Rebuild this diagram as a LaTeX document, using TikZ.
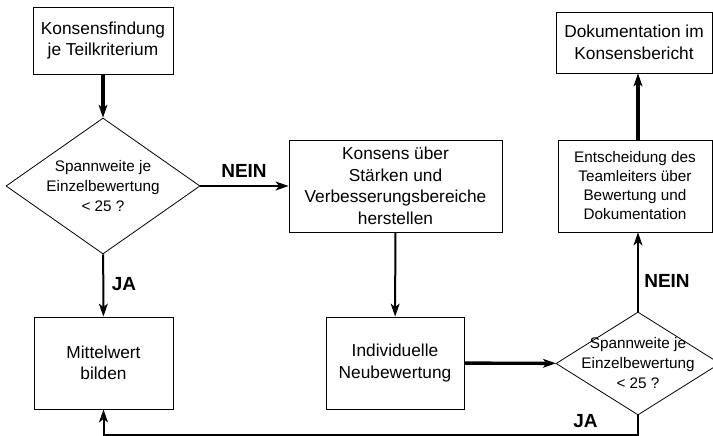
\documentclass[tikz,border=0pt]{standalone}
\usepackage{fontspec}
\setmainfont{Liberation Sans}
\usetikzlibrary{shapes.geometric,arrows.meta}
\tikzset{
  box/.style={draw, line width=0.9pt, align=center, inner sep=0pt,
    font=\fontsize{17.3}{21.5}\selectfont},
  smallbox/.style={box, font=\fontsize{15.3}{19}\selectfont},
  decision/.style={draw, diamond, line width=0.8pt, inner sep=0pt},
  decisiontext/.style={align=center, inner sep=0pt,
    font=\fontsize{15.3}{20}\selectfont},
  tip/.tip={Stealth[length=13pt, width=9pt, inset=3.5pt, open, fill=black, line width=1pt]},
  flow/.style={line width=2pt, -tip},
  heavyflow/.style={flow, line width=3.4pt},
  answer/.style={font=\fontsize{19}{19}\bfseries\selectfont}
}
\begin{document}
\begin{tikzpicture}[x=1pt,y=1pt]
\useasboundingbox (0,0) rectangle (713,-436);

% process steps
\node[box, minimum width=140pt, minimum height=67pt] (find) at (103,-40.5)
  {Konsensfindung\\je Teilkriterium};
\node[decision, minimum width=194pt, minimum height=136pt,
  label={[decisiontext]center:{Spannweite je\\Einzelbewertung\\< 25 ?}}]
  (check1) at (103,-186) {};
\node[box, minimum width=213pt, minimum height=92pt] (agree) at (395.5,-186)
  {Konsens über\\Stärken und\\Verbesserungsbereiche\\herstellen};
\node[box, minimum width=138pt, minimum height=92pt] (rerate) at (395,-363)
  {Individuelle\\Neubewertung};
\node[box, minimum width=139pt, minimum height=92pt] (mean) at (103.5,-363)
  {Mittelwert\\bilden};
\node[decision, minimum width=164pt, minimum height=103pt,
  label={[decisiontext]center:{Spannweite je\\Einzelbewertung\\< 25 ?}}]
  (check2) at (638,-363.5) {};
\node[smallbox, minimum width=154pt, minimum height=92pt] (lead) at (635,-186)
  {Entscheidung des\\Teamleiters über\\Bewertung und\\Dokumentation};
\node[box, minimum width=156pt, minimum height=61pt] (doc) at (634,-42.5)
  {Dokumentation im\\Konsensbericht};

% connectors
\draw[heavyflow] (find) -- (check1);
\draw[flow] (check1) -- (agree);
\draw[flow] (check1) -- (mean);
\draw[flow] (agree) -- (rerate);
\draw[heavyflow] (rerate) -- (check2);
\draw[flow] (check2.north) -- (check2.north |- lead.south);
\draw[heavyflow] (check2.north |- lead.north) -- (check2.north |- doc.south);
\draw[flow] (check2.south) -- ++(0,-19.5) -| (mean.south);

% branch labels
\node[answer] (no1) at (244,-171) {NEIN};
\node[answer] (yes1) at (124,-284) {JA};
\node[answer] (no2) at (667,-281) {NEIN};
\node[answer] (yes2) at (585.5,-421) {JA};
\end{tikzpicture}
\end{document}
